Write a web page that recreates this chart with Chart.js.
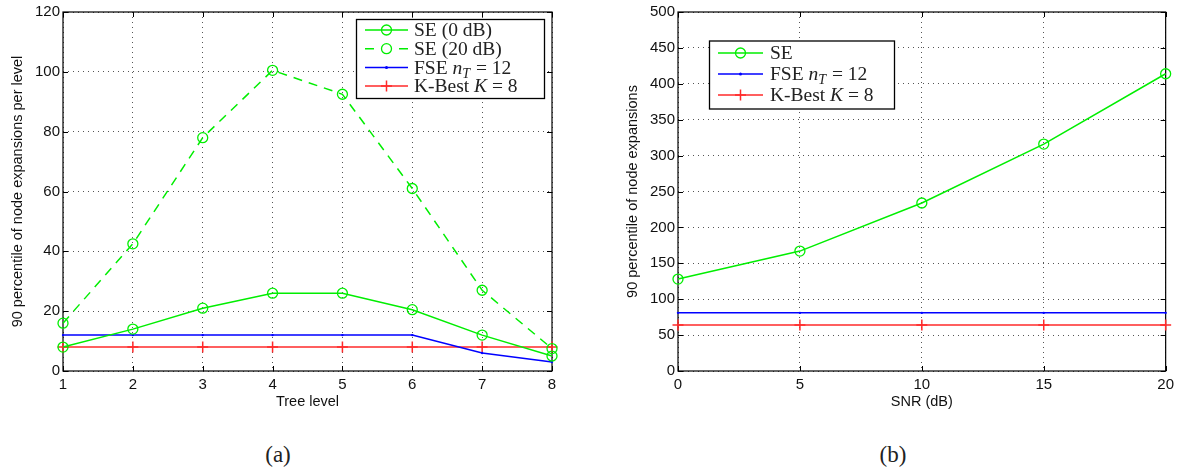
<!DOCTYPE html>
<html>
<head>
<meta charset="utf-8">
<script src="https://cdn.jsdelivr.net/npm/chart.js@4/dist/chart.umd.min.js"></script>
<style>
  body { margin: 0; background: #fff; width: 1179px; height: 474px; overflow: hidden; position: relative; }
  canvas { position: absolute; top: 0; }
  #chartA { left: 0; }
  #chartB { left: 590px; }
  .cap { position: absolute; top: 442px; font: 23px "Liberation Serif", serif; color: #222; transform: translateX(-50%); }
</style>
</head>
<body>
<canvas id="chartA" width="590" height="420"></canvas>
<canvas id="chartB" width="589" height="420"></canvas>
<div class="cap" style="left:278px">(a)</div>
<div class="cap" style="left:893px">(b)</div>
<script>
// (a) per tree level
const treeLevels = [1, 2, 3, 4, 5, 6, 7, 8];
const se0dB  = [8, 14, 21, 26, 26, 20.5, 12, 5];
const se20dB = [16, 42.5, 78, 100.5, 92.5, 61, 27, 7.5];
const fseA   = [12, 12, 12, 12, 12, 12, 6, 3];
const kbestA = [8, 8, 8, 8, 8, 8, 8, 8];
const labelsA = ['SE (0 dB)', 'SE (20 dB)', 'FSE $n_T$ = 12', 'K-Best $K$ = 8'];

// (b) vs SNR
const snr    = [0, 5, 10, 15, 20];
const seB    = [128, 167, 234, 316, 414];
const fseB   = [81, 81, 81, 81, 81];
const kbestB = [64, 64, 64, 64, 64];
const labelsB = ['SE', 'FSE $n_T$ = 12', 'K-Best $K$ = 8'];

const GREEN = '#00ee00', BLUE = '#0000ff', RED = '#ff2a2a';
const tickFont = { family: '"Liberation Sans", Arial, sans-serif', size: 15 };
const titleFont = { family: '"Liberation Sans", Arial, sans-serif', size: 14.5 };

const pts = (xs, ys) => xs.map((x, i) => ({ x: x, y: ys[i] }));

const styles = {
    se:    { borderColor: GREEN, pointStyle: 'circle', pointRadius: 5, pointBorderWidth: 1.3, pointBackgroundColor: 'rgba(0,0,0,0)' },
    fse:   { borderColor: BLUE, pointStyle: 'circle', pointRadius: 1.2, pointBorderWidth: 0, pointBackgroundColor: BLUE },
    kbest: { borderColor: RED, pointStyle: 'cross', pointRadius: 5.5, pointBorderWidth: 1.5, pointBackgroundColor: RED }
};

const makeSet = (label, data, st, dash) => Object.assign({
    label: label,
    data: data,
    borderWidth: 1.5,
    borderDash: dash || [],
    pointBorderColor: st.borderColor,
    tension: 0,
    clip: false
}, st);

// draw a label with $..$ italic math and _x subscripts
function drawRich(ctx, text, x, y, size) {
    const parts = text.split('$');
    parts.forEach((p, i) => {
        const math = i % 2 === 1;
        if (math) {
            const m = p.split('_');
            ctx.font = 'italic ' + size + 'px "Liberation Serif", serif';
            ctx.fillText(m[0], x, y);
            x += ctx.measureText(m[0]).width;
            if (m[1]) {
                ctx.font = 'italic ' + Math.round(size * 0.7) + 'px "Liberation Serif", serif';
                ctx.fillText(m[1], x, y + size * 0.28);
                x += ctx.measureText(m[1]).width + 1;
            }
        } else {
            ctx.font = size + 'px "Liberation Serif", serif';
            ctx.fillText(p, x, y);
            x += ctx.measureText(p).width;
        }
    });
}

const frame = {
    id: 'frame',
    beforeDatasetsDraw(chart) {
        const { ctx, chartArea: a, scales } = chart;
        ctx.save();
        ctx.strokeStyle = '#000';
        ctx.lineWidth = 1.2;
        ctx.strokeRect(a.left, a.top, a.right - a.left, a.bottom - a.top);
        ctx.lineWidth = 1;
        scales.x.ticks.forEach(t => {
            const px = Math.round(scales.x.getPixelForValue(t.value)) + 0.5;
            ctx.beginPath();
            ctx.moveTo(px, a.bottom); ctx.lineTo(px, a.bottom - 5);
            ctx.moveTo(px, a.top); ctx.lineTo(px, a.top + 5);
            ctx.stroke();
        });
        scales.y.ticks.forEach(t => {
            const py = Math.round(scales.y.getPixelForValue(t.value)) + 0.5;
            ctx.beginPath();
            ctx.moveTo(a.left, py); ctx.lineTo(a.left + 5, py);
            ctx.moveTo(a.right, py); ctx.lineTo(a.right - 5, py);
            ctx.stroke();
        });
        ctx.restore();
    },
    afterDraw(chart) {
        const o = chart.options.plugins.boxLegend;
        if (!o) return;
        const { ctx, chartArea: a } = chart;
        const bx = a.left + o.x, by = a.top + o.y;
        ctx.save();
        ctx.fillStyle = '#fff';
        ctx.fillRect(bx, by, o.w, o.h);
        ctx.strokeStyle = '#000';
        ctx.lineWidth = 1.3;
        ctx.strokeRect(bx + 0.5, by + 0.5, o.w, o.h);
        chart.data.datasets.forEach((ds, i) => {
            const yy = by + o.first + i * o.pitch;
            const x0 = bx + o.lx0, x1 = bx + o.lx1, xm = (x0 + x1) / 2;
            ctx.strokeStyle = ds.borderColor;
            ctx.lineWidth = 1.5;
            ctx.beginPath();
            if (ds.borderDash.length) {
                ctx.moveTo(x0, yy); ctx.lineTo(x0 + 9, yy);
                ctx.moveTo(x1 - 9, yy); ctx.lineTo(x1, yy);
            } else {
                ctx.moveTo(x0, yy); ctx.lineTo(x1, yy);
            }
            ctx.stroke();
            ctx.lineWidth = ds.pointBorderWidth || 1.3;
            ctx.beginPath();
            if (ds.pointStyle === 'cross') {
                ctx.moveTo(xm - ds.pointRadius, yy); ctx.lineTo(xm + ds.pointRadius, yy);
                ctx.moveTo(xm, yy - ds.pointRadius); ctx.lineTo(xm, yy + ds.pointRadius);
                ctx.stroke();
            } else if (ds.pointRadius > 2) {
                ctx.arc(xm, yy, ds.pointRadius, 0, Math.PI * 2);
                ctx.stroke();
            } else {
                ctx.fillStyle = ds.borderColor;
                ctx.arc(xm, yy, 1.5, 0, Math.PI * 2);
                ctx.fill();
            }
            ctx.fillStyle = '#222';
            ctx.textBaseline = 'middle';
            drawRich(ctx, ds.label, bx + o.tx, yy + 1, o.size);
        });
        ctx.restore();
    }
};

const makeOptions = (xr, yr, xTitle, yTitle, yWidth, pad, legend) => ({
    responsive: false,
    animation: false,
    layout: { padding: pad },
    plugins: { legend: { display: false }, tooltip: { enabled: false }, boxLegend: legend },
    scales: {
        x: {
            type: 'linear', min: xr[0], max: xr[1],
            ticks: { stepSize: xr[2], font: tickFont, color: '#111', padding: 5, maxRotation: 0 },
            grid: { color: '#555', lineWidth: 1, drawTicks: false },
            border: { display: false, dash: [1, 4] },
            title: { display: true, text: xTitle, font: titleFont, color: '#111', padding: { top: 4, bottom: 9.3 } },
            afterFit: s => { s.height = 49; }
        },
        y: {
            min: yr[0], max: yr[1],
            ticks: { stepSize: yr[2], font: tickFont, color: '#111', padding: 3 },
            grid: { color: '#555', lineWidth: 1, drawTicks: false },
            border: { display: false, dash: [1, 4] },
            title: { display: true, text: yTitle, font: titleFont, color: '#111', padding: { top: yWidth - 53.7, bottom: 4 } },
            afterFit: s => { s.width = yWidth; }
        }
    }
});

new Chart(document.getElementById('chartA'), {
    type: 'line',
    data: {
        datasets: [
            makeSet(labelsA[0], pts(treeLevels, se0dB), styles.se),
            makeSet(labelsA[1], pts(treeLevels, se20dB), styles.se, [9, 7]),
            makeSet(labelsA[2], pts(treeLevels, fseA), styles.fse),
            makeSet(labelsA[3], pts(treeLevels, kbestA), styles.kbest)
        ]
    },
    options: makeOptions([1, 8, 1], [0, 120, 20], 'Tree level',
        '90 percentile of node expansions per level', 63,
        { top: 11, right: 38, left: 0, bottom: 0 },
        { x: 293, y: 7, w: 188, h: 79, first: 11, pitch: 18.7, lx0: 9, lx1: 52, tx: 58, size: 19.5 }),
    plugins: [frame]
});

new Chart(document.getElementById('chartB'), {
    type: 'line',
    data: {
        datasets: [
            makeSet(labelsB[0], pts(snr, seB), styles.se),
            makeSet(labelsB[1], pts(snr, fseB), styles.fse),
            makeSet(labelsB[2], pts(snr, kbestB), styles.kbest)
        ]
    },
    options: makeOptions([0, 20, 5], [0, 500, 50], 'SNR (dB)',
        '90 percentile of node expansions', 88,
        { top: 11, right: 12, left: 0, bottom: 0 },
        { x: 31, y: 28.5, w: 185, h: 68, first: 12.5, pitch: 21, lx0: 9, lx1: 54, tx: 61, size: 19.5 }),
    plugins: [frame]
});
</script>
</body>
</html>
